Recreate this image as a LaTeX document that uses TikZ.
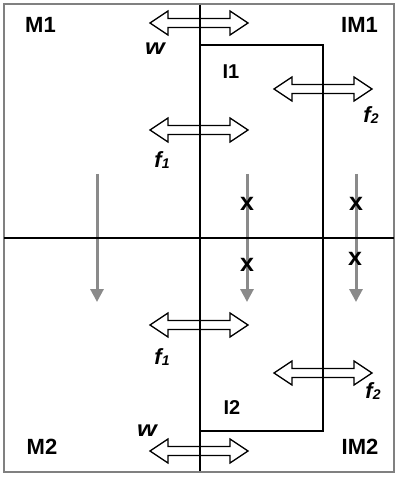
\documentclass[tikz,border=0pt]{standalone}
\usepackage{fontspec}
\setmainfont{Liberation Sans}
\usetikzlibrary{arrows.meta}
\definecolor{framegray}{HTML}{808080}
\definecolor{arrgray}{HTML}{8A8A8A}
\newcommand{\subdigit}[1]{\raisebox{-1.5pt}{\fontsize{14}{14}\selectfont #1}}
\newcommand{\widew}{\scalebox{1.15}[1]{w}}
\begin{document}
\begin{tikzpicture}[x=1pt,y=-1pt,
  bigtxt/.style={inner sep=0pt,font=\fontsize{22}{24}\selectfont\bfseries},
  midtxt/.style={inner sep=0pt,font=\fontsize{20}{22}\selectfont\bfseries},
  smalltxt/.style={inner sep=0pt,font=\fontsize{22}{24}\selectfont\bfseries\itshape},
  ftxt/.style={inner sep=0pt,font=\fontsize{22}{24}\selectfont\bfseries\itshape},
  xtxt/.style={inner sep=0pt,font=\fontsize{25}{26}\selectfont\bfseries},
  wall/.style={line width=2.5pt,black},
  downarr/.style={line width=3pt,arrgray,-{Triangle[width=13pt,length=13pt]}},
  pics/dblarrow/.style={code={
    \draw[line width=1.3pt,fill=white]
      (-49,0) -- (-31,-12) -- (-31,-4.5) -- (31,-4.5) -- (31,-12) -- (49,0)
      -- (31,12) -- (31,4.5) -- (-31,4.5) -- (-31,12) -- cycle;
  }}]
\useasboundingbox (0,0) rectangle (400,478);
\draw[framegray,line width=2.5pt] (4,4) rectangle (394,472);

% gray downward arrows
\coordinate (a1s) at (97,174); \coordinate (a1e) at (97,302);
\coordinate (a2s) at (247,174); \coordinate (a2e) at (247,302);
\coordinate (a3s) at (356,174); \coordinate (a3e) at (356,302);
\draw[downarr] (a1s) -- (a1e);
\draw[downarr] (a2s) -- (a2e);
\draw[downarr] (a3s) -- (a3e);

% double arrows
\pic (wtop) at (199,23) {dblarrow};
\pic (fonetop) at (199,130) {dblarrow};
\pic (ftwotop) at (323,89) {dblarrow};
\pic (fonebot) at (199,325) {dblarrow};
\pic (ftwobot) at (323,373) {dblarrow};
\pic (wbot) at (199,451) {dblarrow};

% walls
\coordinate (vt) at (200,5); \coordinate (vb) at (200,471);
\coordinate (hl) at (4,238); \coordinate (hr) at (394,238);
\coordinate (rtl) at (200,45); \coordinate (rtr) at (323,45);
\coordinate (rbr) at (323,431); \coordinate (rbl) at (200,431);
\draw[wall] (vt) -- (vb);
\draw[wall] (hl) -- (hr);
\draw[wall] (rtl) -- (rtr) -- (rbr) -- (rbl);

% labels
\node[bigtxt] (m1) at (40.5,25) {M1};
\node[bigtxt] (im1) at (359.5,25) {IM1};
\node[midtxt] (i1) at (231,71.5) {I1};
\node[bigtxt] (m2) at (42,447) {M2};
\node[bigtxt] (im2) at (360,447) {IM2};
\node[midtxt] (i2) at (232,408) {I2};
\node[smalltxt] (wt) at (155,48.3) {\widew};
\node[smalltxt] (wb) at (147,431) {\widew};
\node[ftxt] (f1t) at (162,160) {f\subdigit{1}};
\node[ftxt] (f1b) at (162,357) {f\subdigit{1}};
\node[ftxt] (f2t) at (371,115) {f\subdigit{2}};
\node[ftxt] (f2b) at (373,391) {f\subdigit{2}};
\node[xtxt] (x1) at (247,204) {x};
\node[xtxt] (x2) at (356,204) {x};
\node[xtxt] (x3) at (247,265) {x};
\node[xtxt] (x4) at (355,259) {x};
\end{tikzpicture}
\end{document}
